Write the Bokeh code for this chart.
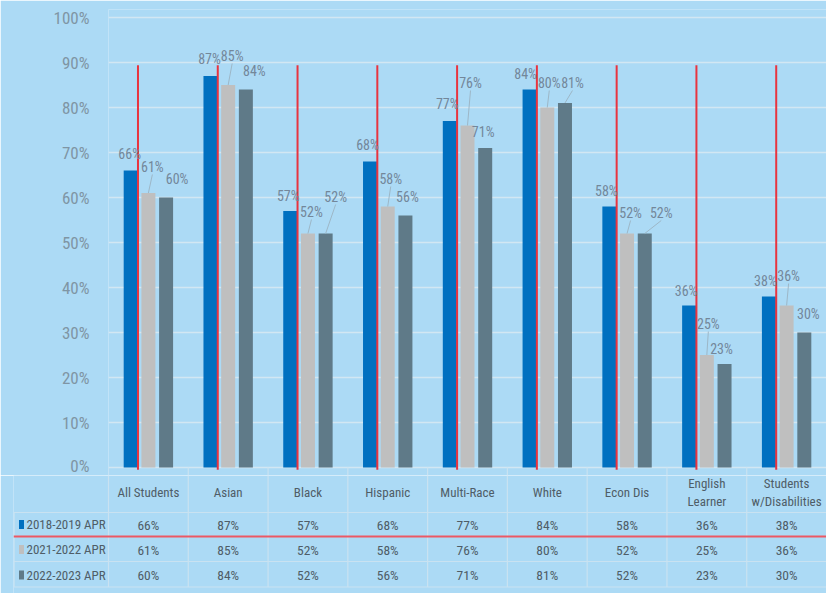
import re
from bokeh.plotting import figure
from bokeh.layouts import column
from bokeh.models import Range1d, PrintfTickFormatter, FixedTicker
from bokeh.core.properties import value
from bokeh.embed import file_html
from bokeh.resources import INLINE

# ---------------- data ----------------
categories = ["All Students", "Asian", "Black", "Hispanic", "Multi-Race", "White",
              "Econ Dis", "English\nLearner", "Students\nw/Disabilities"]
series_names = ["2018-2019 APR", "2021-2022 APR", "2022-2023 APR"]
apr_2018_2019 = [66, 87, 57, 68, 77, 84, 58, 36, 38]
apr_2021_2022 = [61, 85, 52, 58, 76, 80, 52, 25, 36]
apr_2022_2023 = [60, 84, 52, 56, 71, 81, 52, 23, 30]
y_ticks = [0, 10, 20, 30, 40, 50, 60, 70, 80, 90, 100]

# ---------------- style ----------------
BG = "#acdaf5"
GRID = "#d2e7f3"
TABLE_LINE = "#c9e2f1"
RED = "#e8343f"
RED_ROW = "#ec5864"
COLORS = ["#0070c0", "#bfbfbf", "#5f7a88"]
LABEL_COLOR = "#73879a"
AXIS_COLOR = "#7f95a4"
TABLE_TEXT = "#4f5d67"
LEADER = "#9db7c7"
FONT = "'Liberation Sans Narrow', 'Arial Narrow', 'Roboto Condensed', sans-serif"

W = 826
PX_CAT = 718 / 9.0     # pixels per category
PX_PCT = 4.5           # pixels per percent
BAR_W = 14 / PX_CAT
BAR_STEP = 17.7 / PX_CAT
RED_OFFSET = -10.4 / PX_CAT
RED_TOP = 89.4
BELOW = 8              # px of chart frame below the 0% line

# label nudges (pixels): per series, per category
label_dx = [[-1, -1, -2, -2.5, -2.5, -4, -3, -3, -3.5],
            [4, 4, 3.5, 3, 3, 2, 3.5, 1.5, 2],
            [11, 8.5, 10, 2, -2, 7.5, 16.5, -3, 4]]
label_dy = [[17, 17.5, 15.5, 17, 17.5, 16, 16, 15, 16],
            [26.5, 29.5, 22, 28, 43, 25, 21, 31.5, 30],
            [19, 19, 37, 19, 16.5, 20.5, 21, 15.5, 19]]

series = [apr_2018_2019, apr_2021_2022, apr_2022_2023]
n = len(categories)
centers = [i + 0.5 for i in range(n)]

# ---------------- chart ----------------
TOP_H = 467 + BELOW
p = figure(width=W, height=TOP_H, x_range=Range1d(0, n),
           y_range=Range1d(-BELOW / PX_PCT, 100 + 8 / PX_PCT),
           output_backend="svg", toolbar_location=None, x_axis_location=None,
           title=None, min_border_left=108, min_border_right=0,
           min_border_top=9, min_border_bottom=0)
p.frame_align = False
p.background_fill_color = BG
p.border_fill_color = BG
p.outline_line_color = None
p.xgrid.visible = False
p.ygrid.ticker = FixedTicker(ticks=y_ticks)
p.ygrid.grid_line_color = GRID
p.ygrid.grid_line_width = 1.5
p.yaxis.ticker = FixedTicker(ticks=y_ticks)
p.yaxis.formatter = PrintfTickFormatter(format="%d%%")
p.yaxis.axis_line_color = None
p.yaxis.major_tick_line_color = None
p.yaxis.minor_tick_line_color = None
p.yaxis.major_label_text_font = FONT
p.yaxis.major_label_text_font_size = "17px"
p.yaxis.major_label_text_color = AXIS_COLOR
p.yaxis.major_label_standoff = 13

# table column separators reaching up to the 0% line
p.segment(x0=list(range(n)), y0=[0] * n, x1=list(range(n)), y1=[-BELOW / PX_PCT] * n,
          line_color=TABLE_LINE, line_width=1.2)

for k, vals in enumerate(series):
    xs = [c + (k - 1) * BAR_STEP for c in centers]
    p.vbar(x=xs, top=vals, width=BAR_W, fill_color=COLORS[k], line_color=None)

red_x = [c + RED_OFFSET for c in centers]
p.segment(x0=red_x, y0=[-0.5] * n, x1=red_x, y1=[RED_TOP] * n,
          line_color=RED, line_width=2)

for k, vals in enumerate(series):
    xs = [c + (k - 1) * BAR_STEP for c in centers]
    lx = [x + d / PX_CAT for x, d in zip(xs, label_dx[k])]
    ly = [v + d / PX_PCT for v, d in zip(vals, label_dy[k])]
    # leader lines for labels pushed away from their bars
    sx0, sy0, sx1, sy1 = [], [], [], []
    for x, v, tx, ty_, d in zip(xs, vals, lx, ly, label_dy[k]):
        if d >= 20:
            sx0.append(x); sy0.append(v)
            sx1.append(tx); sy1.append(ty_ - 8 / PX_PCT)
    if sx0:
        p.segment(x0=sx0, y0=sy0, x1=sx1, y1=sy1, line_color=LEADER, line_width=1)
    p.text(x=lx, y=ly, text=[f"{v}%" for v in vals], text_align="center",
           text_baseline="middle", text_font=value(FONT), text_font_size="14px",
           text_color=LABEL_COLOR)

# ---------------- data table ----------------
x_start = -95 / PX_CAT
TH = 593 - TOP_H
off = 467 - TOP_H      # table y measured from the 0% line
t = figure(width=W, height=TH, x_range=Range1d(x_start, n), y_range=Range1d(TH, 0),
           output_backend="svg", toolbar_location=None, x_axis_location=None,
           y_axis_location=None, title=None, min_border_left=13, min_border_right=0,
           min_border_top=0, min_border_bottom=0)
t.frame_align = False
t.background_fill_color = BG
t.border_fill_color = BG
t.outline_line_color = None
t.xgrid.visible = False
t.ygrid.visible = False


def ty(px_below_zero):
    return px_below_zero + off


row_lines = [ty(45), ty(69), ty(94), ty(119.5)]
t.segment(x0=[x_start] * 3, y0=[row_lines[0], row_lines[2], row_lines[3]],
          x1=[n] * 3, y1=[row_lines[0], row_lines[2], row_lines[3]],
          line_color=TABLE_LINE, line_width=1.2)
t.segment(x0=[x_start + 0.6 / PX_CAT], y0=[row_lines[0]], x1=[x_start + 0.6 / PX_CAT],
          y1=[row_lines[3]], line_color=TABLE_LINE, line_width=1.2)
t.segment(x0=list(range(n)), y0=[0] * n, x1=list(range(n)), y1=[row_lines[3]] * n,
          line_color=TABLE_LINE, line_width=1.2)
t.segment(x0=[x_start], y0=[row_lines[1]], x1=[n], y1=[row_lines[1]],
          line_color=RED_ROW, line_width=2)

t.text(x=centers, y=[ty(25)] * n, text=categories, text_align="center",
       text_baseline="middle", text_font=value(FONT), text_font_size="13px",
       text_color=TABLE_TEXT, text_line_height=1.2)

row_y = [ty(57), ty(82), ty(107.5)]
for k, vals in enumerate(series):
    t.text(x=centers, y=[row_y[k]] * n, text=[f"{v}%" for v in vals], text_align="center",
           text_baseline="middle", text_font=value(FONT), text_font_size="13.5px",
           text_color=TABLE_TEXT)
    t.rect(x=[x_start + 8 / PX_CAT], y=[row_y[k]], width=5, height=9,
           width_units="screen", height_units="screen", fill_color=COLORS[k], line_color=None)
    t.text(x=[x_start + 13 / PX_CAT], y=[row_y[k]], text=[series_names[k]], text_align="left",
           text_baseline="middle", text_font=value(FONT), text_font_size="13px",
           text_color=TABLE_TEXT)

layout = column(p, t, spacing=0)
html = file_html(layout, INLINE)
html = re.sub(r"<body([^>]*)>", r'<body\1 style="background-color:%s;">' % BG, html, count=1)
open("out.html", "w").write(html)
